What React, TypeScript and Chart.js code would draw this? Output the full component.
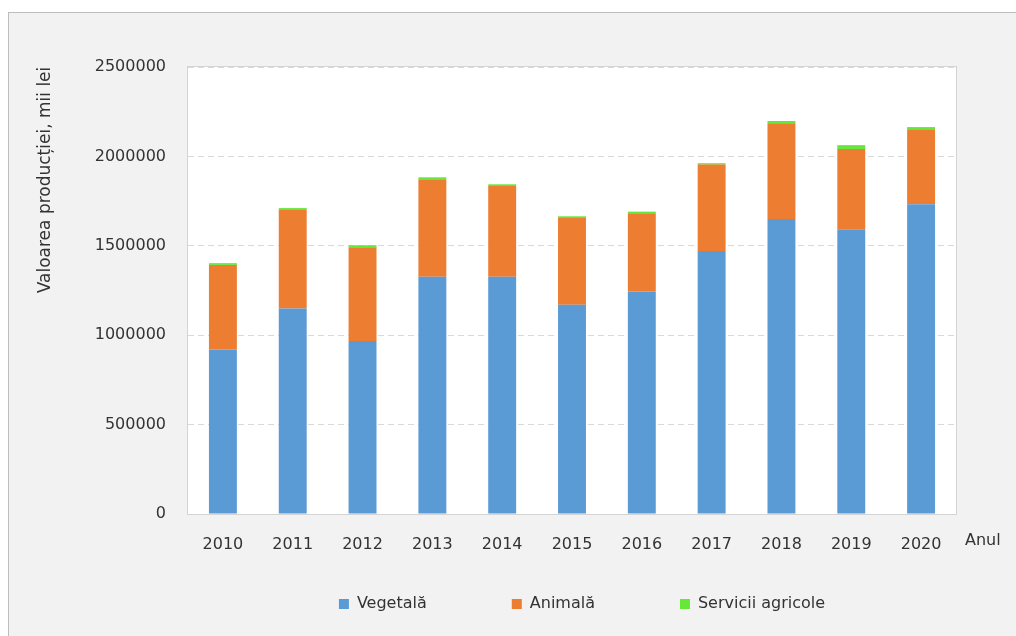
import React, { useEffect, useRef } from "react";
import { Chart, registerables } from "chart.js";

Chart.register(...registerables);

const years = ["2010", "2011", "2012", "2013", "2014", "2015", "2016", "2017", "2018", "2019", "2020"];
const vegetala = [920000, 1150000, 968000, 1327000, 1327000, 1170000, 1245000, 1471000, 1650000, 1592000, 1732000];
const animala = [473000, 550000, 524000, 541000, 507000, 485000, 437000, 483000, 535000, 449000, 420000];
const servicii = [10000, 11000, 11000, 15000, 10000, 10000, 9000, 8000, 13000, 22000, 12000];
const seriesNames = ["Vegetală", "Animală", "Servicii agricole"];
const yTicks = [0, 500000, 1000000, 1500000, 2000000, 2500000];
const yTitle = "Valoarea producției, mii lei";
const xTitle = "Anul";

const FONT = "'DejaVu Sans', sans-serif";
const TEXT = "#333333";
const LEGEND_PAD = 85;
const LEGEND_TEXT_CENTER_Y = 604;
const LEGEND_SHIFT_X = 10;

const decorPlugin = {
  id: "decor",
  beforeUpdate(chart: any) {
    const lg = chart.legend;
    if (lg && !lg.__patched) {
      const orig = lg.fit;
      lg.fit = function (this: any) {
        orig.call(this);
        this.height = 30;
      };
      lg.__patched = true;
    }
  },
  afterLayout(chart: any) {
    const lg = chart.legend;
    if (lg) {
      const fontSize = 16;
      lg.top = LEGEND_TEXT_CENTER_Y - fontSize / 2 - LEGEND_PAD;
      lg.bottom = LEGEND_TEXT_CENTER_Y + 24;
      lg.height = lg.bottom - lg.top;
      lg.left += LEGEND_SHIFT_X;
      lg.right += LEGEND_SHIFT_X;
    }
  },
  beforeDraw(chart: any) {
    const { ctx, chartArea } = chart;
    ctx.save();
    ctx.fillStyle = "#ffffff";
    ctx.fillRect(chartArea.left, chartArea.top, chartArea.right - chartArea.left, chartArea.bottom - chartArea.top);
    ctx.restore();
  },
  beforeDatasetsDraw(chart: any) {
    const { ctx, chartArea } = chart;
    ctx.save();
    ctx.strokeStyle = "#d4d4d4";
    ctx.lineWidth = 1;
    ctx.strokeRect(chartArea.left - 0.5, chartArea.top - 0.5, chartArea.right - chartArea.left + 1, chartArea.bottom - chartArea.top + 1);
    ctx.restore();
  },
  afterDraw(chart: any) {
    const { ctx, chartArea } = chart;
    ctx.save();
    ctx.fillStyle = TEXT;
    ctx.font = `16px ${FONT}`;
    ctx.textBaseline = "top";
    ctx.textAlign = "left";
    ctx.fillText(xTitle, chartArea.right + 9, chartArea.bottom + 19);
    ctx.translate(46, 180);
    ctx.rotate(-Math.PI / 2);
    ctx.textAlign = "center";
    ctx.textBaseline = "middle";
    ctx.font = `17px ${FONT}`;
    ctx.fillText(yTitle, 0, 0);
    ctx.restore();
  },
};

export default function App() {
  const ref = useRef<HTMLCanvasElement | null>(null);

  useEffect(() => {
    if (!ref.current) return;
    const chart = new Chart(ref.current, {
      type: "bar",
      data: {
        labels: years,
        datasets: [
          { label: seriesNames[0], data: vegetala, backgroundColor: "#5b9bd5", borderWidth: 0 },
          { label: seriesNames[1], data: animala, backgroundColor: "#ed7d31", borderWidth: 0 },
          { label: seriesNames[2], data: servicii, backgroundColor: "#66e83a", borderWidth: 0 },
        ],
      },
      options: {
        animation: false,
        responsive: false,
        devicePixelRatio: 1,
        layout: { padding: { left: 0, top: 67, right: 60, bottom: 32 } },
        datasets: { bar: { barPercentage: 0.4, categoryPercentage: 1 } },
        plugins: {
          tooltip: { enabled: false },
          legend: {
            position: "bottom",
            fullSize: false,
            labels: {
              boxWidth: 10,
              boxHeight: 10,
              padding: LEGEND_PAD,
              color: TEXT,
              font: { family: FONT, size: 16 },
            },
          },
        },
        scales: {
          x: {
            stacked: true,
            grid: { display: false, drawTicks: false },
            border: { display: false },
            ticks: { color: TEXT, padding: 21, font: { family: FONT, size: 16 }, maxRotation: 0, autoSkip: false },
            afterFit: (s: any) => {
              s.height = 60;
            },
          },
          y: {
            stacked: true,
            min: yTicks[0],
            max: yTicks[yTicks.length - 1],
            afterBuildTicks: (s: any) => {
              s.ticks = yTicks.map((v) => ({ value: v }));
            },
            grid: { color: "#d9d9d9", drawTicks: false, lineWidth: 1 },
            border: { display: false, dash: [6, 4] },
            ticks: {
              color: TEXT,
              padding: 22,
              font: { family: FONT, size: 16 },
              callback: (v: any) => String(v),
            },
            afterFit: (s: any) => {
              s.width = 188;
            },
          },
        },
      },
      plugins: [decorPlugin],
    });
    return () => chart.destroy();
  }, []);

  return (
    <div style={{ position: "fixed", left: 0, top: 0, width: 1016, height: 636, background: "#ffffff", overflow: "hidden" }}>
      <div
        style={{
          position: "absolute",
          left: 8,
          top: 12,
          width: 1100,
          height: 700,
          border: "1px solid #bdbdbd",
          background: "#f2f2f2",
        }}
      />
      <canvas ref={ref} width={1016} height={636} style={{ position: "absolute", left: 0, top: 0, display: "block" }} />
    </div>
  );
}
